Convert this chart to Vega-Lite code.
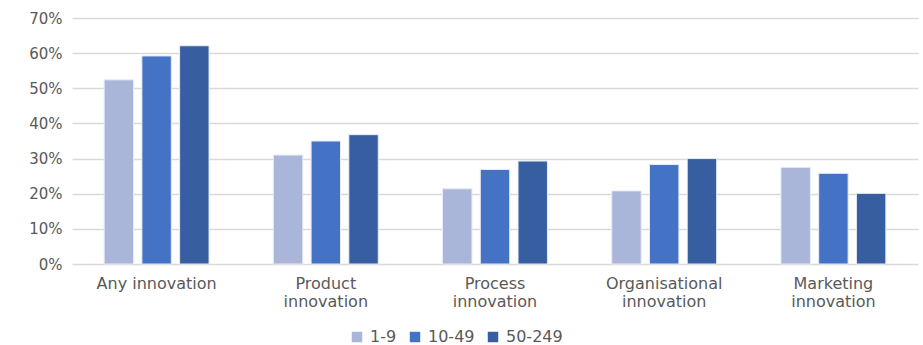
{
  "$schema": "https://vega.github.io/schema/vega-lite/v6.json",
  "autosize": {"type": "none"},
  "width": 846,
  "height": 246,
  "padding": {"left": 72, "top": 18, "right": 5, "bottom": 81},
  "background": "white",
  "data": {
    "values": [
      {"category": "Any innovation", "size": "1-9", "value": 0.524},
      {"category": "Any innovation", "size": "10-49", "value": 0.592},
      {"category": "Any innovation", "size": "50-249", "value": 0.621},
      {"category": "Product innovation", "size": "1-9", "value": 0.310},
      {"category": "Product innovation", "size": "10-49", "value": 0.350},
      {"category": "Product innovation", "size": "50-249", "value": 0.368},
      {"category": "Process innovation", "size": "1-9", "value": 0.214},
      {"category": "Process innovation", "size": "10-49", "value": 0.269},
      {"category": "Process innovation", "size": "50-249", "value": 0.293},
      {"category": "Organisational innovation", "size": "1-9", "value": 0.208},
      {"category": "Organisational innovation", "size": "10-49", "value": 0.283},
      {"category": "Organisational innovation", "size": "50-249", "value": 0.300},
      {"category": "Marketing innovation", "size": "1-9", "value": 0.275},
      {"category": "Marketing innovation", "size": "10-49", "value": 0.258},
      {"category": "Marketing innovation", "size": "50-249", "value": 0.201}
    ]
  },
  "mark": {"type": "bar", "stroke": "#e6ecf7", "strokeWidth": 1},
  "encoding": {
    "x": {
      "field": "category",
      "type": "nominal",
      "sort": null,
      "title": null,
      "scale": {"paddingInner": 0.38, "paddingOuter": 0.19},
      "axis": {
        "labelAngle": 0,
        "domain": false,
        "ticks": false,
        "labelPadding": 11,
        "labelExpr": "datum.value == 'Any innovation' ? datum.value : split(datum.value, ' ')",
        "labelFont": "DejaVu Sans",
        "labelFontSize": 16,
        "labelColor": "#595959",
        "labelLineHeight": 18
      }
    },
    "xOffset": {"field": "size", "type": "nominal", "sort": ["1-9", "10-49", "50-249"], "scale": {"paddingInner": 0.22}},
    "y": {
      "field": "value",
      "type": "quantitative",
      "title": null,
      "scale": {"domain": [0, 0.7]},
      "axis": {
        "format": ".0%",
        "values": [0, 0.1, 0.2, 0.3, 0.4, 0.5, 0.6, 0.7],
        "labelOverlap": false,
        "domain": false,
        "ticks": false,
        "labelPadding": 10,
        "labelFont": "DejaVu Sans",
        "labelFontSize": 15,
        "labelColor": "#595959",
        "gridColor": "#d9d9d9",
        "gridWidth": 1.5
      }
    },
    "color": {
      "field": "size",
      "type": "nominal",
      "sort": ["1-9", "10-49", "50-249"],
      "scale": {"domain": ["1-9", "10-49", "50-249"], "range": ["#a9b6da", "#4472c4", "#365ea0"]},
      "legend": {
        "title": null,
        "orient": "none",
        "direction": "horizontal",
        "legendX": 277,
        "legendY": 311,
        "symbolType": "square",
        "symbolSize": 110,
        "symbolStrokeWidth": 0,
        "labelFont": "DejaVu Sans",
        "labelFontSize": 16,
        "labelColor": "#595959",
        "columnPadding": 10,
        "labelOffset": 5
      }
    }
  },
  "config": {"view": {"stroke": null}}
}
